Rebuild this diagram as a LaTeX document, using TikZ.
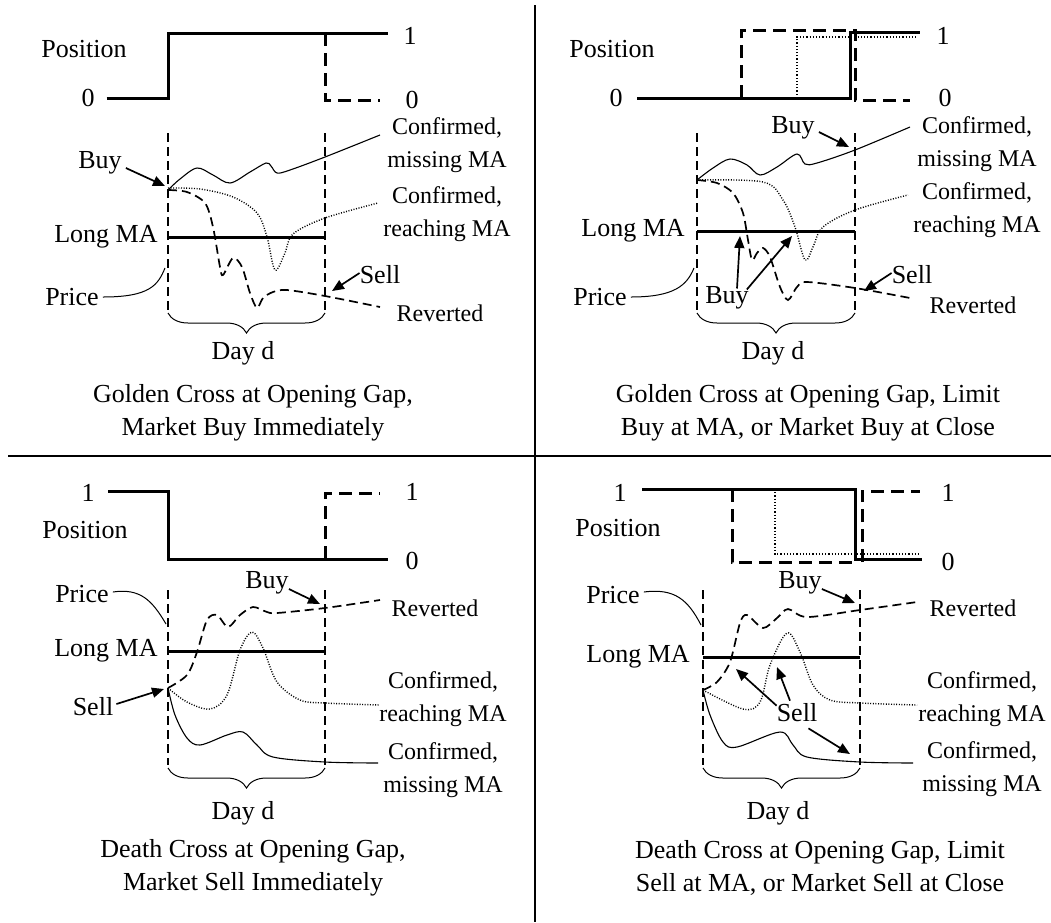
\documentclass[tikz,border=0pt]{standalone}
\usepackage{fontspec}
\setmainfont{Liberation Serif}
\usetikzlibrary{arrows.meta,decorations.pathreplacing}
\begin{document}
\begin{tikzpicture}[x=1pt,y=-1pt,
  posline/.style={line width=3pt},
  posdash/.style={line width=3pt,dash pattern=on 13pt off 7pt},
  posdot/.style={line width=1.8pt,dash pattern=on 1.2pt off 2pt},
  vdash/.style={line width=2.6pt,dash pattern=on 9pt off 5pt},
  maline/.style={line width=3pt},
  cursolid/.style={line width=1.1pt},
  curdash/.style={line width=1.7pt,dash pattern=on 9pt off 5pt},
  curdot/.style={line width=1.4pt,dash pattern=on 1pt off 1.6pt},
  leadline/.style={line width=1pt},
  arr/.style={line width=1.7pt,-{Triangle[length=12pt,width=10pt]}},
  lbl/.style={font=\fontsize{26}{28}\selectfont,inner sep=0pt},
  slbl/.style={font=\fontsize{24}{33}\selectfont,inner sep=0pt,align=center},
  captext/.style={font=\fontsize{26}{33}\selectfont,inner sep=0pt,align=center},
  bracestyle/.style={line width=1pt,decorate,decoration={brace,mirror,amplitude=20pt}},
  divider/.style={line width=1.2pt}
]
\useasboundingbox (0,0) rectangle (1051,922);
% dividers
\draw[divider] (535,5) -- (535,922);
\draw[divider] (8,456) -- (1051,456);

%================ Panel 1 =================
\node[lbl] (p1pos) at (84,49) {Position};
\node[lbl] (p1z) at (88,98) {0};
\node[lbl] (p1one) at (410,36) {1};
\node[lbl] (p1zr) at (412,100) {0};
\draw[posline] (p1z.east) ++(12,0) -- (168,98) -- (168,33) -- (388,33);
\draw[posdash] (325,33) -- (325,100) -- (380,100);
\draw[vdash] (168,133) -- (168,310);
\draw[vdash] (325,133) -- (325,310);
\draw[maline] (168,237) -- (325,237);
\node[lbl] (p1ma) at (106,237) {Long MA};
\coordinate (s1) at (168,190);
\draw[cursolid] plot[smooth,tension=0.55] coordinates {(168,190) (180,179) (197,168) (213,175) (230,183) (250,172) (266,163) (271,166) (277,173) (290,170) (325,157) (380,135)};
\draw[curdot] plot[smooth,tension=0.55] coordinates {(168,188) (200,189) (233,197) (257,213) (267,237) (275,270) (285,253) (293,234) (325,218) (378,203)};
\draw[curdash] plot[smooth,tension=0.5] coordinates {(168,190) (187,192) (205,203) (213,227) (220,267) (223,275) (233,258) (242,267) (250,293) (257,308) (263,298) (273,292) (287,290) (325,296) (380,307)};
\node[slbl] (p1cm) at (447,145) {Confirmed,\\missing MA};
\node[slbl] (p1cr) at (447,214) {Confirmed,\\reaching MA};
\node[slbl] (p1rv) at (440,313) {Reverted};
\node[lbl] (p1buy) at (100,163) {Buy};
\draw[arr] ([shift={(4,5)}]p1buy.east) -- ([shift={(-3,-4)}]s1);
\node[lbl] (p1price) at (72,297) {Price};
\coordinate (p1pe) at (165,268);
\draw[leadline] ([shift={(4,0)}]p1price.east) .. controls (150,297) and (158,285) .. (p1pe);
\node[lbl] (p1sell) at (380,275) {Sell};
\coordinate (p1st) at (332,291);
\draw[arr] ([shift={(0,-2)}]p1sell.west) -- (p1st);
\draw[bracestyle] (168,313) -- (325,313);
\node[lbl] (p1day) at (243,353) {Day d};
\node[captext] (p1cap) at (253,413) {Golden Cross at Opening Gap,\\Market Buy Immediately};

%================ Panel 2 =================
\node[lbl] (p2pos) at (612,49) {Position};
\node[lbl] (p2z) at (616,98) {0};
\node[lbl] (p2one) at (943,36) {1};
\node[lbl] (p2zr) at (945,98) {0};
\draw[posline] (637,98) -- (850,98) -- (850,32) -- (920,32);
\draw[posdash] (741,98) -- (741,30) -- (855,30) -- (855,100) -- (910,100);
\draw[posdot] (797,98) -- (797,37) -- (917,37);
\draw[vdash] (697,133) -- (697,310);
\draw[vdash] (855,133) -- (855,310);
\draw[maline] (697,231) -- (855,231);
\node[lbl] (p2ma) at (633,231) {Long MA};
\coordinate (s2) at (697,180);
\draw[cursolid] plot[smooth,tension=0.55] coordinates {(697,180) (713,168) (730,159) (747,165) (760,175) (777,167) (797,154) (805,164) (817,163) (855,150) (910,127)};
\draw[curdot] plot[smooth,tension=0.55] coordinates {(697,180) (763,182) (783,200) (795,227) (805,260) (813,247) (823,227) (855,210) (908,195)};
\draw[curdash] plot[smooth,tension=0.5] coordinates {(697,180) (717,183) (733,193) (743,213) (748,240) (752,260) (757,253) (763,248) (770,257) (780,287) (788,300) (797,287) (807,282) (855,288) (910,298)};
\node[slbl] (p2cm) at (977,144) {Confirmed,\\missing MA};
\node[slbl] (p2cr) at (977,210) {Confirmed,\\reaching MA};
\node[slbl] (p2rv) at (973,305) {Reverted};
\node[lbl] (p2buyt) at (793,128) {Buy};
\coordinate (p2bt) at (849,147);
\draw[arr] ([shift={(4,4)}]p2buyt.east) -- (p2bt);
\node[lbl] (p2buyb) at (727,298) {Buy};
\coordinate (p2ba) at (740,236);
\coordinate (p2bb) at (792,236);
\draw[arr] ([shift={(10,2)}]p2buyb.north) -- (p2ba);
\draw[arr] ([shift={(-2,3)}]p2buyb.north east) -- (p2bb);
\node[lbl] (p2price) at (600,297) {Price};
\coordinate (p2pe) at (694,268);
\draw[leadline] ([shift={(4,0)}]p2price.east) .. controls (675,297) and (687,285) .. (p2pe);
\node[lbl] (p2sell) at (912,275) {Sell};
\coordinate (p2st) at (864,291);
\draw[arr] ([shift={(0,-2)}]p2sell.west) -- (p2st);
\draw[bracestyle] (697,313) -- (855,313);
\node[lbl] (p2day) at (773,353) {Day d};
\node[captext] (p2cap) at (808,413) {Golden Cross at Opening Gap, Limit\\Buy at MA, or Market Buy at Close};

%================ Panel 3 =================
\node[lbl] (p3pos) at (85,530) {Position};
\node[lbl] (p3one) at (88,493) {1};
\node[lbl] (p3zr) at (412,561) {0};
\node[lbl] (p3oner) at (412,492) {1};
\draw[posline] (108,491) -- (168,491) -- (168,559) -- (388,559);
\draw[posdash] (325,559) -- (325,493) -- (380,493);
\draw[vdash] (168,590) -- (168,765);
\draw[vdash] (325,590) -- (325,765);
\draw[maline] (168,651) -- (325,651);
\node[lbl] (p3ma) at (106,651) {Long MA};
\coordinate (s3) at (168,688);
\draw[curdash] plot[smooth,tension=0.5] coordinates {(168,688) (187,675) (197,652) (207,620) (217,615) (228,627) (240,615) (253,607) (267,612) (277,613) (325,608) (380,600)};
\draw[curdot] plot[smooth,tension=0.55] coordinates {(168,688) (187,702) (210,709) (227,695) (240,650) (252,632) (263,648) (277,682) (300,700) (325,703) (380,705)};
\draw[cursolid] plot[smooth,tension=0.55] coordinates {(168,688) (175,715) (187,738) (200,745) (227,735) (243,732) (257,745) (273,757) (325,762) (378,763)};
\node[slbl] (p3rv) at (435,608) {Reverted};
\node[slbl] (p3cr) at (443,699) {Confirmed,\\reaching MA};
\node[slbl] (p3cm) at (443,770) {Confirmed,\\missing MA};
\node[lbl] (p3buy) at (267,583) {Buy};
\coordinate (p3bt) at (320,604);
\draw[arr] ([shift={(0,6)}]p3buy.east) -- (p3bt);
\node[lbl] (p3sell) at (93,707) {Sell};
\draw[arr] ([shift={(3,-3)}]p3sell.east) -- ([shift={(-4,1)}]s3);
\node[lbl] (p3price) at (82,594) {Price};
\coordinate (p3pe) at (166,624);
\draw[leadline] ([shift={(4,-2)}]p3price.east) .. controls (140,588) and (152,600) .. (p3pe);
\draw[bracestyle] (168,768) -- (325,768);
\node[lbl] (p3day) at (243,813) {Day d};
\node[captext] (p3cap) at (253,868) {Death Cross at Opening Gap,\\Market Sell Immediately};

%================ Panel 4 =================
\node[lbl] (p4pos) at (618,528) {Position};
\node[lbl] (p4one) at (620,493) {1};
\node[lbl] (p4oner) at (948,493) {1};
\node[lbl] (p4zr) at (948,562) {0};
\draw[posline] (642,489) -- (855,489) -- (855,559) -- (922,559);
\draw[posdash] (732,489) -- (732,562) -- (858,562);
\draw[posdash] (862,562) -- (862,491) -- (920,491);
\draw[posdot] (775,489) -- (775,554) -- (920,554);
\draw[vdash] (703,590) -- (703,765);
\draw[vdash] (860,590) -- (860,765);
\draw[maline] (703,657) -- (860,657);
\node[lbl] (p4ma) at (638,657) {Long MA};
\coordinate (s4) at (703,690);
\draw[curdash] plot[smooth,tension=0.5] coordinates {(703,690) (717,682) (730,662) (740,623) (747,615) (763,628) (777,618) (788,609) (807,617) (860,610) (917,602)};
\draw[curdot] plot[smooth,tension=0.55] coordinates {(703,690) (743,709) (760,702) (770,665) (787,633) (800,652) (813,685) (830,700) (860,703) (917,705)};
\draw[cursolid] plot[smooth,tension=0.55] coordinates {(703,690) (710,715) (723,742) (737,747) (780,732) (793,745) (807,757) (860,762) (913,763)};
\node[slbl] (p4rv) at (973,608) {Reverted};
\node[slbl] (p4cr) at (982,699) {Confirmed,\\reaching MA};
\node[slbl] (p4cm) at (982,769) {Confirmed,\\missing MA};
\node[lbl] (p4buy) at (800,583) {Buy};
\coordinate (p4bt) at (855,603);
\draw[arr] ([shift={(0,6)}]p4buy.east) -- (p4bt);
\node[lbl] (p4sell) at (797,713) {Sell};
\coordinate (p4sa) at (736,669);
\coordinate (p4sb) at (777,667);
\coordinate (p4sc) at (850,754);
\draw[arr] ([shift={(0,2)}]p4sell.north west) -- (p4sa);
\draw[arr] ([shift={(-7,-3)}]p4sell.north) -- (p4sb);
\draw[arr] ([shift={(-9,6)}]p4sell.south east) -- (p4sc);
\node[lbl] (p4price) at (613,595) {Price};
\coordinate (p4pe) at (701,625);
\draw[leadline] ([shift={(4,-3)}]p4price.east) .. controls (675,588) and (688,600) .. (p4pe);
\draw[bracestyle] (703,768) -- (860,768);
\node[lbl] (p4day) at (778,813) {Day d};
\node[captext] (p4cap) at (820,868) {Death Cross at Opening Gap, Limit\\Sell at MA, or Market Sell at Close};
\end{tikzpicture}
\end{document}
